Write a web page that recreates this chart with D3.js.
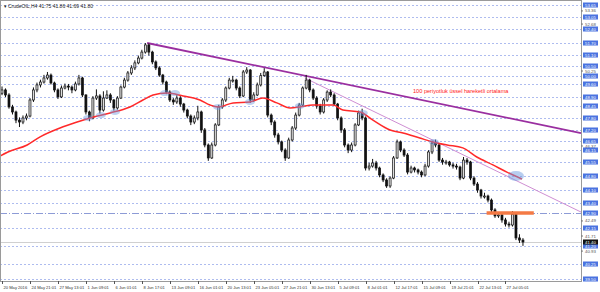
<!DOCTYPE html>
<html>
<head>
<meta charset="utf-8">
<script src="https://cdn.jsdelivr.net/npm/d3@7"></script>
<style>
  body { margin: 0; background: #fff; }
  svg { display: block; font-family: "Liberation Sans", "DejaVu Sans", sans-serif; }
</style>
</head>
<body>
<svg></svg>
<script>
var width = 600, height = 292,
    plotRight = 581, plotBottom = 281;

// 8h bars (open = previous close)
var firstOpen = 49.10;
var closes = [49.27,49.01,48.39,48.13,47.71,47.61,47.82,47.92,48.75,49.27,
  49.53,49.68,49.89,50.04,49.63,49.27,48.91,49.37,49.47,49.42,
  49.27,49.58,49.89,49.01,48.13,47.82,48.85,48.96,48.23,48.85,
  49.01,48.75,48.34,48.85,49.42,49.78,50.15,50.41,50.67,50.92,
  51.23,51.60,51.23,50.72,50.41,50.04,49.68,49.16,48.75,48.65,
  48.85,48.54,48.23,47.92,47.61,47.82,48.13,47.20,46.42,45.75,
  46.42,47.46,48.39,48.75,49.37,49.78,49.78,49.37,48.96,50.20,
  50.30,48.75,49.01,49.53,50.01,50.20,47.97,47.61,46.94,46.58,
  46.16,45.75,46.68,47.30,47.97,48.49,49.37,49.78,49.27,48.85,
  48.44,48.13,48.75,49.16,49.01,48.54,47.82,47.20,46.42,46.16,
  46.42,47.46,48.08,47.82,45.23,45.33,45.49,45.23,44.87,44.61,
  44.30,44.71,45.75,46.58,46.16,45.90,45.02,45.23,45.13,45.02,
  44.87,45.33,46.06,46.52,46.42,45.64,45.54,45.54,45.39,45.33,
  45.28,44.71,45.64,45.54,44.71,44.40,44.09,43.78,43.78,43.57,
  43.06,42.75,42.80,42.54,42.33,42.28,42.84,41.61,41.50,41.40];
var highs = [49.45,49.35,49.10,48.50,48.20,47.85,47.95,48.05,48.85,49.40,
  49.65,49.80,50.05,50.20,50.12,49.70,49.35,49.50,49.60,49.58,
  49.50,49.70,50.05,49.95,49.05,48.20,48.95,49.30,49.05,49.20,
  49.25,49.10,48.80,48.95,49.50,49.90,50.25,50.55,50.80,51.05,
  51.35,51.70,51.68,51.30,50.80,50.50,50.10,49.75,49.25,48.85,
  49.00,48.95,48.60,48.30,48.00,47.95,48.45,48.20,47.30,46.50,
  46.55,47.55,48.50,48.85,49.45,49.90,50.00,49.85,49.45,50.30,
  50.45,50.35,49.15,49.65,50.15,50.40,50.25,48.05,47.70,47.05,
  46.65,46.25,46.80,47.40,48.10,48.60,49.45,50.05,49.85,49.35,
  48.95,48.55,48.85,49.25,49.30,49.10,48.60,47.90,47.30,46.50,
  46.55,47.55,48.20,48.30,47.90,45.50,45.70,45.60,45.30,44.95,
  44.70,44.80,45.85,46.70,46.65,46.25,46.00,45.35,45.30,45.20,
  45.10,45.45,46.15,46.65,46.70,46.50,45.75,45.65,45.60,45.50,
  45.45,45.35,45.80,45.75,45.60,44.80,44.50,44.15,43.95,43.85,
  43.65,43.15,42.95,42.90,42.65,42.45,43.00,42.90,41.80,41.60];
var lows = [49.00,48.90,48.30,48.00,47.55,47.35,47.50,47.70,47.85,48.65,
  49.15,49.40,49.60,49.80,49.55,49.15,48.80,48.85,49.30,49.25,
  49.10,49.20,49.50,48.90,48.00,47.65,47.75,48.75,48.05,48.15,
  48.80,48.60,48.20,48.25,48.80,49.35,49.70,50.05,50.30,50.60,
  50.85,51.15,51.05,50.60,50.30,49.95,49.55,49.05,48.65,48.50,
  48.55,48.40,48.10,47.80,47.45,47.50,47.70,47.05,46.30,45.60,
  45.70,46.35,47.40,48.30,48.65,49.30,49.65,49.25,48.85,48.90,
  50.10,48.60,48.65,48.95,49.45,49.95,47.85,47.45,46.80,46.45,
  46.05,45.60,45.70,46.60,47.20,47.90,48.40,49.30,49.15,48.75,
  48.30,48.00,48.05,48.65,48.90,48.45,47.70,47.05,46.30,46.00,
  46.05,46.35,47.40,47.70,45.10,45.10,45.25,45.10,44.75,44.50,
  44.20,44.20,44.65,45.70,46.05,45.80,44.90,44.95,45.00,44.90,
  44.75,44.80,45.25,45.95,46.30,45.55,45.40,45.40,45.30,45.20,
  45.15,44.60,44.65,45.40,44.60,44.30,43.95,43.65,43.65,43.45,
  42.95,42.65,42.65,42.40,42.20,42.15,42.20,41.50,41.35,41.20];

// 100 period EMA, read at points along the red line
var maIdx = [-0.6,1.7,7.2,10.9,16.6,21.5,25.2,30.9,36.6,40.3,43.2,47.2,51.8,56.6,
  59.5,61.8,66.1,70.9,74.6,78.6,82.4,85.2,88.9,94.7,97.5,102.4,106.1,111.0,
  114.7,119.5,123.2,127.3,131.8,135.8,140.4,144.4,148.7];
var maVals = [45.85,46.06,46.42,46.84,47.30,47.61,47.82,48.08,48.39,48.75,49.01,49.11,48.96,48.75,
  48.49,48.39,48.60,48.65,48.85,48.60,48.34,48.39,48.49,48.49,48.23,48.13,47.71,47.20,
  47.04,46.78,46.58,46.42,46.27,45.80,45.39,45.02,44.66];

// user horizontal lines (blue labelled levels)
var levels = [53.65,53.05,52.40,51.70,51.10,50.50,50.00,49.60,48.90,48.45,47.80,47.20,
  46.65,46.15,45.55,44.80,44.10,43.40,42.90,42.15,41.20,40.25,39.50];
var dashDotLevel = 42.90;
var axisTicks = [53.36,52.68,50.25,46.37,42.49,41.71,40.93];
var lastPrice = 41.40;

// trend lines and marks
var trendThick = [[41.5, 51.70], [165.6, 47.04]];
var trendThin = [[86.6, 49.89], [165.6, 42.95]];
var orangeSeg = [138.6, 152.1, 42.90];
var touchIdx = [24.6, 28.3, 32.3, 46.6, 49.5, 61.8, 70.9, 85.2, 103.2, 123.5];
var touchVals = [47.82, 47.97, 48.13, 49.11, 49.11, 48.39, 48.65, 48.44, 48.08, 46.58];
var bigTouch = [147.0, 44.82];

var xLabels = ["20 May 2016","24 May 21:01","27 May 13:01","1 Jun 09:01","6 Jun 01:01",
  "8 Jun 17:01","13 Jun 09:01","16 Jun 01:01","20 Jun 13:01","23 Jun 05:01",
  "27 Jun 21:01","30 Jun 13:01","5 Jul 09:01","8 Jul 01:01","12 Jul 17:01",
  "15 Jul 09:01","19 Jul 21:01","22 Jul 13:01","27 Jul 05:01"];
var xLabelIdx = [0,8,16,24,32,40,48,56,64,72,80,88,96,104,112,120,128,136,144];

var svg = d3.select("svg")
    .attr("width", width)
    .attr("height", height);

svg.append("rect")
    .attr("width", width).attr("height", height)
    .style("fill", "#fff");

var x = d3.scaleLinear().domain([0, 165.6]).range([2, plotRight]);
var y = d3.scaleLinear().domain([41.40, 51.70]).range([242, 43]);

var plot = svg.append("g");

// levels
plot.selectAll(".lvl")
    .data(levels)
  .enter().append("line")
    .attr("x1", 0).attr("x2", plotRight)
    .attr("y1", function(d) { return Math.round(y(d)) + 0.5; })
    .attr("y2", function(d) { return Math.round(y(d)) + 0.5; })
    .style("stroke", function(d) { return d === dashDotLevel ? "#8d9bd6" : "#aebcef"; })
    .style("stroke-width", 1)
    .style("stroke-dasharray", function(d) { return d === dashDotLevel ? "7,2,1,2" : "2,2"; });

// last price line
plot.append("line")
    .attr("x1", 0).attr("x2", plotRight)
    .attr("y1", Math.round(y(lastPrice)) + 0.5).attr("y2", Math.round(y(lastPrice)) + 0.5)
    .style("stroke", "#d0d0d0");

// trend lines
var line2 = d3.line()
    .x(function(d) { return x(d[0]); })
    .y(function(d) { return y(d[1]); });

plot.append("path")
    .attr("d", line2(trendThin))
    .style("fill", "none").style("stroke", "#cf8fd3").style("stroke-width", 1);

plot.append("path")
    .attr("d", line2(trendThick))
    .style("fill", "none").style("stroke", "#9a2fa0").style("stroke-width", 1.8);

// candles
var bars = plot.selectAll(".bar")
    .data(closes)
  .enter().append("g");

bars.append("line")
    .attr("x1", function(d, i) { return x(i); })
    .attr("x2", function(d, i) { return x(i); })
    .attr("y1", function(d, i) { return y(highs[i]); })
    .attr("y2", function(d, i) { return y(lows[i]); })
    .style("stroke", "#111").style("stroke-width", 1);

bars.append("rect")
    .attr("x", function(d, i) { return x(i) - 1; })
    .attr("width", 2)
    .attr("y", function(d, i) {
      var o = i ? closes[i - 1] : firstOpen;
      return y(Math.max(o, d));
    })
    .attr("height", function(d, i) {
      var o = i ? closes[i - 1] : firstOpen;
      return Math.max(1, Math.abs(y(o) - y(d)));
    })
    .style("fill", function(d, i) {
      var o = i ? closes[i - 1] : firstOpen;
      return d >= o ? "#ddd" : "#111";
    })
    .style("stroke", "#111").style("stroke-width", 0.7);

// moving average
plot.append("path")
    .attr("d", d3.line().curve(d3.curveMonotoneX)
      .x(function(d, i) { return x(maIdx[i]); })
      .y(function(d) { return y(d); })(maVals))
    .style("fill", "none").style("stroke", "#ff2a2a").style("stroke-width", 1.5);

// touch marks
plot.selectAll(".touch")
    .data(touchVals)
  .enter().append("ellipse")
    .attr("cx", function(d, i) { return x(touchIdx[i]); })
    .attr("cy", function(d) { return y(d); })
    .attr("rx", 5).attr("ry", 3)
    .style("fill", "#6f9be0").style("fill-opacity", 0.45);

plot.append("ellipse")
    .attr("cx", x(bigTouch[0])).attr("cy", y(bigTouch[1]))
    .attr("rx", 8).attr("ry", 5)
    .style("fill", "#6f9be0").style("fill-opacity", 0.5);

plot.append("line")
    .attr("x1", x(orangeSeg[0])).attr("x2", x(orangeSeg[1]))
    .attr("y1", y(orangeSeg[2])).attr("y2", y(orangeSeg[2]))
    .style("stroke", "#f47a45").style("stroke-width", 3.5);

plot.append("text")
    .attr("x", 413).attr("y", 93)
    .style("font-size", "5.6px").style("fill", "#ff2020")
    .text("100 periyotluk üssel hareketli ortalama");

plot.append("text")
    .attr("x", 4).attr("y", 8)
    .style("font-size", "5px").style("fill", "#222")
    .text("▾ CrudeOIL,H4  41.75 41.86 41.69 41.80");

// frame
svg.append("rect")
    .attr("x", 0.5).attr("y", 0.5)
    .attr("width", plotRight).attr("height", plotBottom)
    .style("fill", "none").style("stroke", "#9a9a9a");

// right axis
var ax = svg.append("g");
ax.selectAll(".tk")
    .data(axisTicks)
  .enter().append("g")
    .attr("transform", function(d) { return "translate(" + plotRight + "," + y(d) + ")"; })
    .each(function(d) {
      var g = d3.select(this);
      g.append("line").attr("x1", 0).attr("x2", 2).style("stroke", "#777");
      g.append("text").attr("x", 4).attr("dy", "0.35em")
        .style("font-size", "4.4px").style("fill", "#555")
        .text(d.toFixed(2));
    });

var boxes = ax.selectAll(".box")
    .data(levels)
  .enter().append("g")
    .attr("transform", function(d) { return "translate(" + (plotRight + 2) + "," + Math.round(y(d)) + ")"; });
boxes.append("rect")
    .attr("x", 0).attr("y", -2.5).attr("width", 15).attr("height", 5)
    .style("fill", "#4a73e0");
boxes.append("text")
    .attr("x", 7.5).attr("dy", "0.35em").attr("text-anchor", "middle")
    .style("font-size", "4.3px").style("fill", "#fff")
    .text(function(d) { return d.toFixed(2); });

var cur = ax.append("g")
    .attr("transform", "translate(" + (plotRight + 2) + "," + Math.round(y(lastPrice)) + ")");
cur.append("rect").attr("x", 0).attr("y", -2.5).attr("width", 15).attr("height", 5)
    .style("fill", "#111");
cur.append("text").attr("x", 7.5).attr("dy", "0.35em").attr("text-anchor", "middle")
    .style("font-size", "4.3px").style("fill", "#fff")
    .text(lastPrice.toFixed(2));

// bottom axis
var bx = svg.selectAll(".xl")
    .data(xLabels)
  .enter().append("g")
    .attr("transform", function(d, i) { return "translate(" + Math.round(x(xLabelIdx[i])) + "," + plotBottom + ")"; });
bx.append("line").attr("x1", 0.5).attr("x2", 0.5).attr("y1", 0).attr("y2", 3)
    .style("stroke", "#555");
bx.append("text").attr("x", 1.5).attr("y", 7.5)
    .style("font-size", "4.1px").style("fill", "#333")
    .text(function(d) { return d; });
</script>
</body>
</html>
